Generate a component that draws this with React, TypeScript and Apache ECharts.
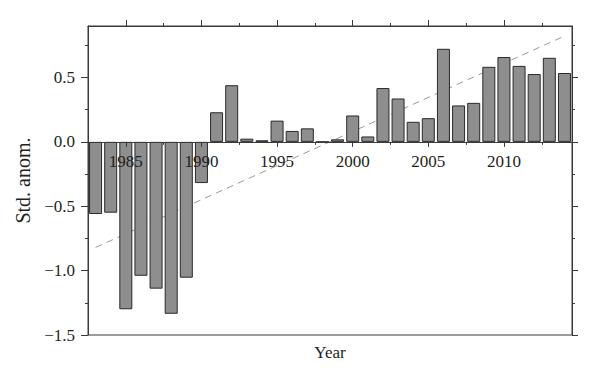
import React, { useEffect, useRef } from 'react';
import * as echarts from 'echarts';

const years = [
  1983, 1984, 1985, 1986, 1987, 1988, 1989, 1990, 1991, 1992, 1993, 1994, 1995, 1996, 1997, 1998,
  1999, 2000, 2001, 2002, 2003, 2004, 2005, 2006, 2007, 2008, 2009, 2010, 2011, 2012, 2013, 2014,
];
const anomalies = [
  -0.56, -0.55, -1.3, -1.04, -1.14, -1.335, -1.055, -0.32, 0.23, 0.44, 0.025, 0.012, 0.165, 0.085,
  0.105, 0, 0.02, 0.205, 0.042, 0.418, 0.337, 0.156, 0.184, 0.723, 0.283, 0.303, 0.583, 0.659, 0.59,
  0.527, 0.653, 0.535,
];
const trendYears = [1983, 2014];
const trendValues = [-0.82, 0.822];

const xMajorTicks = [1985, 1990, 1995, 2000, 2005, 2010];
const xMinorTicks = [1987.5, 1992.5, 1997.5, 2002.5, 2007.5, 2012.5];
const yMajorTicks = [-1.5, -1, -0.5, 0, 0.5];
const yMinorTicks = [-1.25, -0.75, -0.25, 0.25, 0.75];

const X_MIN = 1982.5;
const X_MAX = 2014.5;
const Y_MIN = -1.5;
const Y_MAX = 0.9;

const CHART_W = 600;
const CHART_H = 381;
const GRID_LEFT = 88;
const GRID_RIGHT = 28;
const GRID_TOP = 26;
const GRID_BOTTOM = 46;

const FONT = "'Liberation Serif', 'Times New Roman', Times, serif";
const TEXT = '#231f20';
const AXIS = '#3a3a3a';

export default function App() {
  const ref = useRef<HTMLDivElement>(null);
  useEffect(() => {
    if (!ref.current) return;
    const chart = echarts.init(ref.current, null, { renderer: 'svg' });
    const lineStyle = { color: AXIS, width: 1 };
    const gridHeight = CHART_H - GRID_TOP - GRID_BOTTOM;
    // distance from the grid's bottom edge up to the y = 0 line
    const zeroOffset = -(gridHeight * (0 - Y_MIN)) / (Y_MAX - Y_MIN);
    const xBase = { type: 'value', min: X_MIN, max: X_MAX, splitLine: { show: false }, gridIndex: 0 };
    const yBase = { type: 'value', min: Y_MIN, max: Y_MAX, splitLine: { show: false }, gridIndex: 0 };
    chart.setOption({
      animation: false,
      grid: {
        left: GRID_LEFT,
        right: GRID_RIGHT,
        top: GRID_TOP,
        bottom: GRID_BOTTOM,
        show: true,
        borderColor: AXIS,
        borderWidth: 1,
        backgroundColor: 'transparent',
      },
      xAxis: [
        {
          ...xBase,
          position: 'bottom',
          offset: zeroOffset,
          z: 5,
          axisLine: { show: true, onZero: false, lineStyle },
          axisTick: { show: true, inside: false, length: 5, customValues: xMajorTicks, lineStyle },
          axisLabel: {
            show: true,
            customValues: xMajorTicks,
            margin: 11,
            fontFamily: FONT,
            fontSize: 17,
            color: TEXT,
            formatter: (v: number) => String(v),
          },
        },
        {
          ...xBase,
          position: 'bottom',
          offset: zeroOffset,
          z: 5,
          axisLine: { show: false, onZero: false },
          axisTick: { show: true, inside: false, length: 3, customValues: xMinorTicks, lineStyle },
          axisLabel: { show: false },
        },
        {
          ...xBase,
          position: 'top',
          axisLine: { show: true, onZero: false, lineStyle },
          axisTick: { show: true, inside: false, length: 6, customValues: xMajorTicks, lineStyle },
          axisLabel: { show: false },
        },
        {
          ...xBase,
          position: 'top',
          axisLine: { show: false, onZero: false },
          axisTick: { show: true, inside: false, length: 3, customValues: xMinorTicks, lineStyle },
          axisLabel: { show: false },
        },
        {
          ...xBase,
          position: 'bottom',
          axisLine: { show: false, onZero: false },
          axisTick: { show: false },
          axisLabel: { show: false },
          name: 'Year',
          nameLocation: 'middle',
          nameGap: 9,
          nameTextStyle: { fontFamily: FONT, fontSize: 17, color: TEXT },
        },
      ],
      yAxis: [
        {
          ...yBase,
          position: 'left',
          axisLine: { show: true, onZero: false, lineStyle },
          axisTick: { show: true, inside: false, length: 7, customValues: yMajorTicks, lineStyle },
          axisLabel: {
            show: true,
            customValues: yMajorTicks,
            margin: 13,
            fontFamily: FONT,
            fontSize: 17,
            color: TEXT,
            formatter: (v: number) => v.toFixed(1).replace('-', '\u2212'),
          },
          name: 'Std. anom.',
          nameLocation: 'middle',
          nameGap: 50,
          nameTextStyle: { fontFamily: FONT, fontSize: 20, color: TEXT },
        },
        {
          ...yBase,
          position: 'left',
          axisLine: { show: false, onZero: false },
          axisTick: { show: true, inside: false, length: 3, customValues: yMinorTicks, lineStyle },
          axisLabel: { show: false },
        },
        {
          ...yBase,
          position: 'right',
          axisLine: { show: true, onZero: false, lineStyle },
          axisTick: { show: true, inside: false, length: 6, customValues: yMajorTicks, lineStyle },
          axisLabel: { show: false },
        },
        {
          ...yBase,
          position: 'right',
          axisLine: { show: false, onZero: false },
          axisTick: { show: true, inside: false, length: 3, customValues: yMinorTicks, lineStyle },
          axisLabel: { show: false },
        },
      ],
      series: [
        {
          type: 'line',
          xAxisIndex: 0,
          yAxisIndex: 0,
          data: trendYears.map((y, i) => [y, trendValues[i]]),
          symbol: 'none',
          silent: true,
          z: 1,
          lineStyle: { color: '#9a9a9a', width: 1, type: [7, 5] },
        },
        {
          type: 'bar',
          xAxisIndex: 0,
          yAxisIndex: 0,
          data: years.map((y, i) => [y, anomalies[i]]),
          barWidth: 13,
          z: 2,
          itemStyle: { color: '#8e8e8e', borderColor: '#2a2a2a', borderWidth: 1 },
        },
      ],
    });
    return () => chart.dispose();
  }, []);
  return (
    <div
      ref={ref}
      style={{ position: 'fixed', left: 0, top: 0, width: CHART_W, height: CHART_H, background: '#fff' }}
    />
  );
}
